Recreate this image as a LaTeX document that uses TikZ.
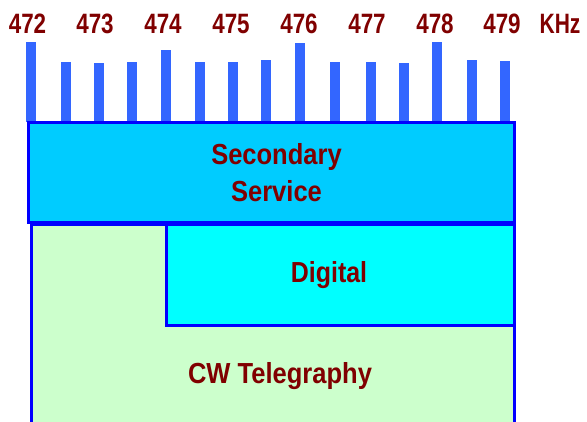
\documentclass[tikz,border=0pt]{standalone}
\usepackage{fontspec}
\usepackage{graphicx}
\setmainfont{Liberation Sans}
\definecolor{txtred}{RGB}{128,0,0}
\definecolor{barblue}{RGB}{51,102,255}
\definecolor{edgeblue}{RGB}{0,0,255}
\definecolor{secfill}{RGB}{0,204,255}
\definecolor{digfill}{RGB}{0,255,255}
\definecolor{cwfill}{RGB}{204,255,204}
\tikzset{
  freqlabel/.style={text=txtred, font=\fontsize{28}{30}\selectfont\bfseries, inner sep=0pt, anchor=base},
  bandlabel/.style={text=txtred, font=\fontsize{29}{37}\selectfont\bfseries, inner sep=0pt, anchor=base, align=center},
  band/.style={draw=edgeblue, line width=3pt},
  bar/.style={fill=barblue, draw=none}
}
\begin{document}
\begin{tikzpicture}[x=1pt,y=-1pt]
\useasboundingbox (0,0) rectangle (587,421);
\fill[white] (0,0) rectangle (587,421);
% bars
\foreach \cx/\ty in {31/42,66/62,99/63,132/62,166/50,200/62,233/62,266/60,300/43,335/62,371/62,404/63,437/42,472/60,505/61}
  \fill[bar] (\cx-5,\ty) rectangle (\cx+5,122);
% frequency labels
\foreach \lx/\lt in {27.5/472,95/473,163/474,231/475,299/476,367/477,435/478,502/479}
  \node[freqlabel] (f\lt) at (\lx,33) {\scalebox{0.8}[1]{\lt}};
\node[freqlabel] (khz) at (560,33) {\scalebox{0.75}[1]{KHz}};
% bands
\begin{scope}
\clip (0,0) rectangle (587,421);
\filldraw[band, fill=cwfill] (31,224) rectangle (514.5,440);
\end{scope}
\filldraw[band, fill=digfill] (166,224.5) rectangle (514.5,325);
\filldraw[band, fill=secfill] (28.5,122.5) rectangle (514.5,222.5);
% band labels
\node[bandlabel] (sec) at (276.5,201) {\scalebox{0.88}[1]{Secondary}\\\scalebox{0.88}[1]{Service}};
\node[bandlabel] (dig) at (329,282) {\scalebox{0.86}[1]{Digital}};
\node[bandlabel] (cw) at (280,383) {\scalebox{0.88}[1]{CW Telegraphy}};
\end{tikzpicture}
\end{document}
